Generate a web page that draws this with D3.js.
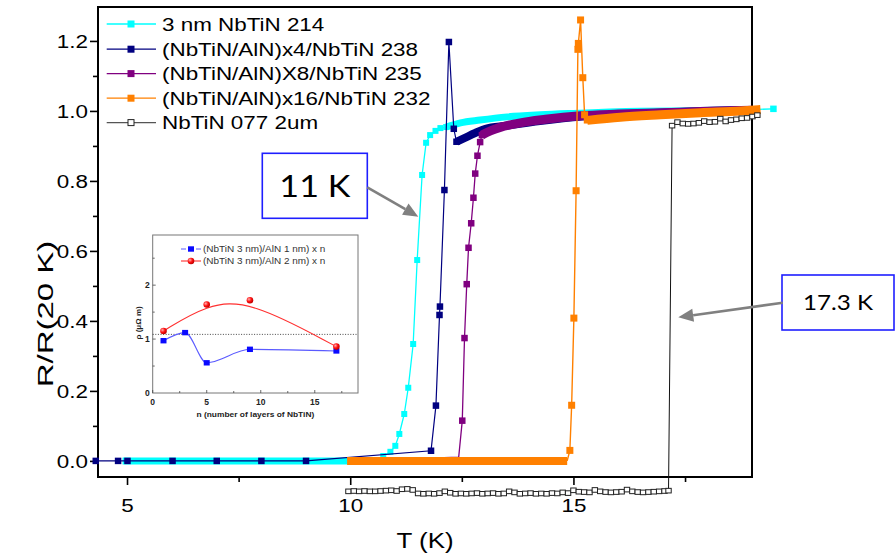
<!DOCTYPE html>
<html><head><meta charset="utf-8">
<script src="https://cdn.jsdelivr.net/npm/d3@7"></script>
<style>
body{margin:0;background:#fff;}
svg{display:block;font-family:"Liberation Sans",Arial,sans-serif;}
</style></head><body>
<svg id="chart" width="896" height="555"></svg>
<script>
// ---------- main chart data ----------
const seriesNames = ["3 nm NbTiN 214","(NbTiN/AlN)x4/NbTiN 238","(NbTiN/AlN)X8/NbTiN 235","(NbTiN/AlN)x16/NbTiN 232","NbTiN 077 2um"];
const seriesColors = ["#00ffff","#000080","#800080","#ff8000","#222222"];
const xMajor = [5,10,15];
const xMinor = [7.5,12.5,17.5];
const yMajor = [0,0.2,0.4,0.6,0.8,1.0,1.2];
const yMinor = [0.1,0.3,0.5,0.7,0.9,1.1];

// 3 nm NbTiN 214 (cyan)
const cyanLowT = [4.9, 10.56];
const cyanLowR = [0, 0];
const cyanT = [10.56, 10.74, 10.90, 11.01, 11.10, 11.21, 11.30, 11.41, 11.50, 11.61, 11.70, 11.79, 11.91, 12.02, 12.15];
const cyanR = [0, 0.014, 0.026, 0.043, 0.077, 0.134, 0.209, 0.334, 0.574, 0.817, 0.909, 0.931, 0.943, 0.951, 0.954];
const cyanHighT = [12.15, 12.47, 12.91, 13.52, 14.26, 15.0, 16.5, 17.85, 19.04];
const cyanHighR = [0.954, 0.966, 0.974, 0.983, 0.989, 0.993, 0.999, 1.001, 1.004];
const cyanEndT = [19.04, 19.48];
const cyanEndR = [1.004, 1.006];

// (NbTiN/AlN)x4 (navy)
const navyT = [4.30, 4.80, 5.01, 6.02, 7.01, 8.01, 9.01, 11.81, 11.92, 12.00, 12.01, 12.11, 12.21, 12.32, 12.38];
const navyR = [0, 0, 0, 0, 0, 0, 0, 0.029, 0.158, 0.417, 0.441, 0.774, 1.197, 0.949, 0.912];
const navyHighT = [12.38, 12.58, 12.80, 13.03, 13.5, 14.3, 15.2, 16.5, 18.0, 19.0];
const navyHighR = [0.912, 0.924, 0.937, 0.949, 0.958, 0.972, 0.984, 0.993, 1.0, 1.003];

// (NbTiN/AlN)X8 (purple)
const purpleT = [9.95, 12.43, 12.51, 12.56, 12.61, 12.65, 12.71, 12.76, 12.80, 12.85, 12.91, 12.95];
const purpleR = [0, 0.011, 0.115, 0.351, 0.505, 0.609, 0.679, 0.752, 0.821, 0.872, 0.911, 0.931];
const purpleHighT = [12.95, 13.14, 13.36, 13.81, 14.37, 15.16, 16.0, 17.0, 18.0, 19.0];
const purpleHighR = [0.931, 0.943, 0.953, 0.966, 0.976, 0.986, 0.991, 0.995, 0.999, 1.002];

// (NbTiN/AlN)x16 (orange)
const orangeLowT = [9.93, 14.86];
const orangeLowR = [0, 0];
const orangeT = [14.86, 14.92, 14.96, 15.01, 15.06, 15.10, 15.11, 15.16, 15.21, 15.25, 15.31];
const orangeR = [0, 0.03, 0.159, 0.408, 0.772, 1.176, 1.193, 1.26, 1.095, 0.989, 0.974];
const orangeHighT = [15.31, 16.05, 16.95, 17.85, 18.74, 19.19];
const orangeHighR = [0.973, 0.982, 0.989, 0.995, 1.0, 1.004];

// NbTiN 077 2um (open squares)
const blackT = [9.96,10.08,10.20,10.32,10.44,10.56,10.68,10.80,10.92,11.04,
  11.16,11.28,11.40,11.52,11.64,11.76,11.88,12.00,12.12,12.24,
  12.36,12.48,12.60,12.72,12.84,12.96,13.08,13.20,13.32,13.44,
  13.56,13.68,13.80,13.92,14.04,14.16,14.28,14.40,14.52,14.64,
  14.76,14.88,15.00,15.12,15.24,15.36,15.48,15.60,15.72,15.84,
  15.96,16.08,16.20,16.32,16.44,16.56,16.68,16.80,16.92,17.04,17.13,
  17.21,17.33,17.45,17.57,17.69,17.81,17.93,18.05,18.17,18.29,
  18.41,18.53,18.65,18.77,18.89,19.01,19.12];
const blackR = [-0.087,-0.086,-0.087,-0.086,-0.087,-0.087,-0.086,-0.085,-0.084,-0.086,
  -0.081,-0.080,-0.083,-0.093,-0.094,-0.093,-0.094,-0.092,-0.087,-0.091,
  -0.094,-0.093,-0.094,-0.093,-0.092,-0.094,-0.093,-0.092,-0.094,-0.093,
  -0.087,-0.090,-0.094,-0.093,-0.092,-0.094,-0.093,-0.094,-0.092,-0.093,
  -0.090,-0.092,-0.084,-0.088,-0.089,-0.090,-0.083,-0.087,-0.089,-0.090,
  -0.089,-0.088,-0.082,-0.087,-0.089,-0.090,-0.089,-0.088,-0.087,-0.086,-0.085,
  0.958,0.968,0.964,0.963,0.964,0.966,0.971,0.968,0.969,0.978,
  0.970,0.974,0.976,0.979,0.980,0.984,0.988];

// ---------- inset data ----------
const insetXTicks = [0,5,10,15];
const insetYTicks = [0,1,2];
const insetLegend = ["(NbTiN 3 nm)/AlN 1 nm) x n","(NbTiN 3 nm)/AlN 2 nm) x n"];
const blueN = [1, 3, 5, 9, 17];
const blueRho = [0.97, 1.12, 0.56, 0.81, 0.78];
const redN = [1, 5, 9, 17];
const redRho = [1.15, 1.64, 1.72, 0.86];
const insetRef = [1.087];

// ---------- annotations ----------
const notes = [{text:"11 K"},{text:"17.3 K"}];

const zip = (a,b)=>a.map((v,i)=>[v,b[i]]);
const svg = d3.select("#chart");
const SX = 1.18;

const x = d3.scaleLinear().domain([4.35, 19.0]).range([98, 752]);
const y = d3.scaleLinear().domain([-0.046, 1.297]).range([477, 7]);

function stext(g, px, py, str, size, anchor, extra){
  return g.append("text")
    .attr("transform", `translate(${px},${py}) scale(${SX},1)` + (extra||""))
    .attr("text-anchor", anchor||"start")
    .style("font-size", size+"px")
    .text(str);
}

// ---------- inset ----------
const xi = d3.scaleLinear().domain([0,19]).range([152.7,358]);
const yi = d3.scaleLinear().domain([0,2.93]).range([393,235]);
const gi = svg.append("g");
const defs = svg.append("defs");
const rg = defs.append("radialGradient").attr("id","ballRed").attr("cx","35%").attr("cy","35%").attr("r","65%");
rg.append("stop").attr("offset","0%").attr("stop-color","#ffb0b0");
rg.append("stop").attr("offset","55%").attr("stop-color","#ff1010");
rg.append("stop").attr("offset","100%").attr("stop-color","#c00000");

gi.append("rect").attr("x",xi(0)).attr("y",yi(2.93)).attr("width",xi(19)-xi(0)).attr("height",yi(0)-yi(2.93))
  .attr("fill","#fff").attr("stroke","#777").attr("stroke-width",1);
[0,2.5,5,7.5,10,12.5,15,17.5].forEach(v=>{
  const L = (v%5===0)?3:2;
  gi.append("line").attr("x1",xi(v)).attr("x2",xi(v)).attr("y1",yi(0)).attr("y2",yi(0)-L).attr("stroke","#444").attr("stroke-width",0.8);
});
[0.5,1,1.5,2,2.5].forEach(v=>{
  const L = (v%1===0)?3:2;
  gi.append("line").attr("x1",xi(0)).attr("x2",xi(0)+L).attr("y1",yi(v)).attr("y2",yi(v)).attr("stroke","#444").attr("stroke-width",0.8);
});
insetXTicks.forEach(v=>{
  gi.append("text").attr("x",xi(v)).attr("y",yi(0)+12).attr("text-anchor","middle")
    .style("font-size","8.5px").style("font-weight","bold").attr("fill","#222").text(v);
});
insetYTicks.forEach(v=>{
  gi.append("text").attr("x",xi(0)-3).attr("y",yi(v)+3).attr("text-anchor","end")
    .style("font-size","8.5px").style("font-weight","bold").attr("fill","#222").text(v);
});
gi.append("text").attr("transform",`translate(${(xi(0)+xi(19))/2},${yi(0)+24}) scale(1.12,1)`).attr("text-anchor","middle")
  .style("font-size","7.5px").style("font-weight","bold").attr("fill","#222").text("n (number of layers of NbTiN)");
gi.append("text").attr("transform",`translate(141,${yi(1.3)}) rotate(-90)`).attr("text-anchor","middle")
  .style("font-size","8px").style("font-weight","bold").attr("fill","#222").text("ρ (μΩ m)");
gi.append("line").attr("x1",xi(0)).attr("x2",xi(19)).attr("y1",yi(insetRef[0])).attr("y2",yi(insetRef[0]))
  .attr("stroke","#333").attr("stroke-width",0.9).attr("stroke-dasharray","1,1.6");
gi.append("path").datum(zip(blueN,blueRho))
  .attr("d", d3.line().x(d=>xi(d[0])).y(d=>yi(d[1])).curve(d3.curveMonotoneX))
  .attr("fill","none").attr("stroke","#5a5aff").attr("stroke-width",1.1);
gi.append("path").datum(zip(redN,redRho))
  .attr("d", d3.line().x(d=>xi(d[0])).y(d=>yi(d[1])).curve(d3.curveBasis))
  .attr("fill","none").attr("stroke","#ff3030").attr("stroke-width",1.1);
gi.selectAll("rect.bm").data(zip(blueN,blueRho)).join("rect").attr("class","bm")
  .attr("x",d=>xi(d[0])-3).attr("y",d=>yi(d[1])-2.7).attr("width",6).attr("height",5.4).attr("fill","#0a0aff");
gi.selectAll("circle.rm").data(zip(redN,redRho)).join("circle").attr("class","rm")
  .attr("cx",d=>xi(d[0])).attr("cy",d=>yi(d[1])).attr("r",3.3).attr("fill","url(#ballRed)");
const ily = [249, 261];
gi.append("line").attr("x1",181).attr("x2",201).attr("y1",ily[0]).attr("y2",ily[0]).attr("stroke","#5a5aff").attr("stroke-width",1.1).attr("stroke-dasharray","5,2,6,2,5");
gi.append("rect").attr("x",188).attr("y",ily[0]-2.7).attr("width",6).attr("height",5.4).attr("fill","#0a0aff");
gi.append("line").attr("x1",181).attr("x2",201).attr("y1",ily[1]).attr("y2",ily[1]).attr("stroke","#ff3030").attr("stroke-width",1.1);
gi.append("circle").attr("cx",191).attr("cy",ily[1]).attr("r",3.3).attr("fill","url(#ballRed)");
insetLegend.forEach((t,i)=>{
  gi.append("text").attr("transform",`translate(203,${ily[i]+3}) scale(1.2,1)`)
    .style("font-size","8.3px").attr("fill","#333").text(t);
});

// ---------- frame & axes ----------
svg.append("rect").attr("x",98).attr("y",7).attr("width",654).attr("height",470)
  .attr("fill","none").attr("stroke","#000").attr("stroke-width",2);

const gx = svg.append("g").attr("transform","translate(0,477)")
  .call(d3.axisBottom(x).tickValues(xMajor).tickSize(8).tickFormat(d3.format("d")));
gx.select(".domain").remove();
gx.selectAll(".tick line").attr("stroke","#000").attr("stroke-width",1.6);
gx.selectAll(".tick text").attr("y",null).attr("dy",null)
  .attr("transform",`translate(0,35) scale(${SX},1)`).style("font-size","19px").attr("fill","#000");
const gx2 = svg.append("g").attr("transform","translate(0,477)")
  .call(d3.axisBottom(x).tickValues(xMinor).tickSize(5).tickFormat(""));
gx2.select(".domain").remove();
gx2.selectAll(".tick line").attr("stroke","#000").attr("stroke-width",1.6);

const gy = svg.append("g").attr("transform","translate(98,0)")
  .call(d3.axisLeft(y).tickValues(yMajor).tickSize(8).tickFormat(d3.format(".1f")));
gy.select(".domain").remove();
gy.selectAll(".tick line").attr("stroke","#000").attr("stroke-width",1.6);
gy.selectAll(".tick text").attr("x",null).attr("dy","0.35em")
  .attr("transform",`translate(-10,0) scale(${SX},1)`).style("font-size","19px").attr("fill","#000");
const gy2 = svg.append("g").attr("transform","translate(98,0)")
  .call(d3.axisLeft(y).tickValues(yMinor).tickSize(5).tickFormat(""));
gy2.select(".domain").remove();
gy2.selectAll(".tick line").attr("stroke","#000").attr("stroke-width",1.6);

stext(svg, 425, 548, "T (K)", 22, "middle");
svg.append("text").attr("transform","translate(53,314) rotate(-90) scale(1.5,1)")
  .attr("text-anchor","middle").style("font-size","22px").text("R/R(20 K)");

// ---------- data ----------
const line = d3.line().x(d=>x(d[0])).y(d=>y(d[1]));
const smooth = d3.line().x(d=>x(d[0])).y(d=>y(d[1])).curve(d3.curveMonotoneX);
const gd = svg.append("g");
function band(T,R,color,w){
  gd.append("path").datum(zip(T,R)).attr("d",smooth).attr("fill","none")
    .attr("stroke",color).attr("stroke-width",w).attr("stroke-linecap","butt").attr("stroke-linejoin","round");
}
function thin(T,R,color,w){
  gd.append("path").datum(zip(T,R)).attr("d",line).attr("fill","none")
    .attr("stroke",color).attr("stroke-width",w||1.2);
}
function marks(T,R,color,s){
  gd.append("g").selectAll("rect").data(zip(T,R)).join("rect")
    .attr("x",d=>x(d[0])-s/2).attr("y",d=>y(d[1])-s/2).attr("width",s).attr("height",s)
    .attr("fill",color);
}
band(cyanLowT,cyanLowR,"#00ffff",7);
thin(cyanT,cyanR,"#00ffff",1.3);
marks(cyanT.slice(1),cyanR.slice(1),"#00ffff",6);
band(cyanHighT,cyanHighR,"#00ffff",7);
thin(cyanEndT,cyanEndR,"#00ffff",1.3);
marks(cyanEndT.slice(1),cyanEndR.slice(1),"#00ffff",6.5);
thin(navyT,navyR,"#000080",1.2);
marks(navyT,navyR,"#000080",6.5);
band(navyHighT,navyHighR,"#000080",8);
thin(purpleT,purpleR,"#800080",1.3);
marks(purpleT.slice(2),purpleR.slice(2),"#800080",6.5);
band(purpleHighT,purpleHighR,"#800080",9);
band(orangeLowT,orangeLowR,"#ff8000",8);
thin(orangeT,orangeR,"#ff8000",1.4);
marks(orangeT.slice(1),orangeR.slice(1),"#ff8000",7);
band(orangeHighT,orangeHighR,"#ff8000",9);
thin(blackT,blackR,"#111",1);
gd.append("g").selectAll("rect").data(zip(blackT,blackR)).join("rect")
  .attr("x",d=>x(d[0])-2.7).attr("y",d=>y(d[1])-2.3).attr("width",5.4).attr("height",4.6)
  .attr("fill","#fff").attr("stroke","#222").attr("stroke-width",1);

// ---------- legend ----------
const lg = svg.append("g");
const legY = [24, 49.2, 73.6, 98.2, 122.6];
seriesNames.forEach((nm,i)=>{
  const isOpen = i===4;
  lg.append("line").attr("x1",106.7).attr("x2",156).attr("y1",legY[i]).attr("y2",legY[i])
    .attr("stroke", isOpen?"#555":seriesColors[i]).attr("stroke-width",1.3);
  if(isOpen){
    lg.append("rect").attr("x",128).attr("y",legY[i]-3).attr("width",6).attr("height",6)
      .attr("fill","#fff").attr("stroke","#222").attr("stroke-width",1);
  } else {
    lg.append("rect").attr("x",127.5).attr("y",legY[i]-3.5).attr("width",7).attr("height",7).attr("fill",seriesColors[i]);
  }
  stext(lg, 162, legY[i]+6.8, nm, 19, "start");
});

// ---------- annotations ----------
const ga = svg.append("g");
const boxes = [{x:262.3,y:153.3,w:105,h:65,fs:31},{x:782,y:275,w:112,h:55,fs:22}];
boxes.forEach((b,i)=>{
  ga.append("rect").attr("x",b.x).attr("y",b.y).attr("width",b.w).attr("height",b.h)
    .attr("fill","#fff").attr("stroke","#1e1eff").attr("stroke-width",1.6);
  ga.append("text").attr("transform",`translate(${b.x+b.w/2},${b.y+b.h/2+b.fs*0.36}) scale(1.1,1)`)
    .attr("text-anchor","middle").style("font-family","Lato, 'Open Sans', sans-serif")
    .style("font-size",b.fs+"px").attr("fill","#000").text(notes[i].text);
});
function arrow(x1,y1,x2,y2){
  const a = Math.atan2(y2-y1,x2-x1), L=15, W=6.5;
  const bx = x2-L*Math.cos(a), by = y2-L*Math.sin(a);
  ga.append("line").attr("x1",x1).attr("y1",y1).attr("x2",bx).attr("y2",by).attr("stroke","#808080").attr("stroke-width",2.6);
  const px=-Math.sin(a), py=Math.cos(a);
  ga.append("path").attr("d",`M${x2},${y2}L${bx+px*W},${by+py*W}L${bx-px*W},${by-py*W}Z`).attr("fill","#808080");
}
arrow(367.3,187.3,418.3,216.7);
arrow(782.7,302.7,678.3,317.3);
</script>
</body></html>
